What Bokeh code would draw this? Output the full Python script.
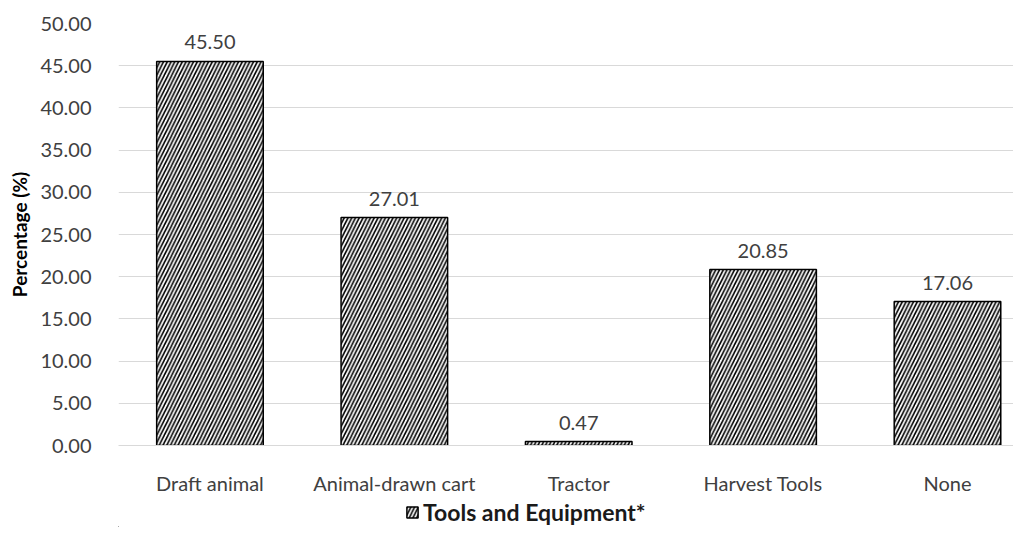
from bokeh.plotting import figure
from bokeh.layouts import column
from bokeh.models import Range1d, FixedTicker, NumeralTickFormatter, Legend, LegendItem, ColumnDataSource
from bokeh.core.properties import value
from bokeh.embed import file_html
from bokeh.resources import INLINE

categories = ["Draft animal", "Animal-drawn cart", "Tractor", "Harvest Tools", "None"]
percentages = [45.50, 27.01, 0.47, 20.85, 17.06]
y_ticks = [0, 5, 10, 15, 20, 25, 30, 35, 40, 45, 50]
series_name = "Tools and Equipment*"

FONT = "Lato"
FS = "20px"
TXT = "#404040"
xs = list(range(len(categories)))
src = ColumnDataSource(dict(x=xs, y=percentages, lbl=[f"{v:.2f}" for v in percentages]))

bar_style = dict(width=0.578, fill_color="white", line_color="black", line_width=1.5,
                 hatch_pattern="/", hatch_color="black", hatch_scale=7.5, hatch_weight=1.6)

p = figure(width=1013, height=497, output_backend="svg", toolbar_location=None,
           x_range=Range1d(-0.496, 4.358), y_range=Range1d(0, 50))
p.min_border_left = 118
p.min_border_right = 0
p.min_border_top = 23
p.min_border_bottom = 48
p.outline_line_color = None

r = p.vbar(x="x", top="y", source=src, **bar_style)

p.text(x="x", y="y", text="lbl", source=src, text_align="center", text_baseline="alphabetic",
       y_offset=-19, text_font=value(FONT), text_font_size=FS, text_color=TXT)

p.xaxis.ticker = FixedTicker(ticks=xs)
p.xaxis.major_label_overrides = {i: c for i, c in enumerate(categories)}
p.xaxis.major_tick_line_color = None
p.xaxis.minor_tick_line_color = None
p.xaxis.axis_line_color = "#d9d9d9"
p.xaxis.major_label_standoff = 19
p.xaxis.major_label_text_font = FONT
p.xaxis.major_label_text_font_size = FS
p.xaxis.major_label_text_color = TXT

p.yaxis.ticker = FixedTicker(ticks=y_ticks)
p.yaxis.formatter = NumeralTickFormatter(format="0.00")
p.yaxis.axis_line_color = None
p.yaxis.major_tick_line_color = None
p.yaxis.minor_tick_line_color = None
p.yaxis.major_label_standoff = 21
p.yaxis.major_label_text_font = FONT
p.yaxis.major_label_text_font_size = FS
p.yaxis.major_label_text_color = TXT
p.yaxis.axis_label = "Percentage (%)"
p.yaxis.axis_label_text_font = FONT
p.yaxis.axis_label_text_font_style = "bold"
p.yaxis.axis_label_text_font_size = "19px"
p.yaxis.axis_label_text_color = "black"
p.yaxis.axis_label_standoff = 6

p.xgrid.grid_line_color = None
p.ygrid.grid_line_color = "#d9d9d9"
p.ygrid.ticker = FixedTicker(ticks=y_ticks)

# legend strip below the chart (its bars lie outside its visible ranges)
lg = figure(width=1013, height=30, output_backend="svg", toolbar_location=None,
            x_axis_type=None, y_axis_type=None,
            x_range=Range1d(100, 101), y_range=Range1d(100, 101))
lg.min_border = 0
lg.outline_line_color = None
lg.grid.visible = False
r2 = lg.vbar(x="x", top="y", source=src, **bar_style)
legend = Legend(items=[LegendItem(label=series_name, renderers=[r2])],
                orientation="horizontal", location=(287, 1),
                label_text_font=FONT, label_text_font_size="23px", label_text_font_style="bold",
                label_text_color="#1a1a1a", glyph_width=14, glyph_height=14,
                border_line_color=None, background_fill_alpha=0, padding=0, margin=0,
                label_standoff=4, spacing=0)
lg.add_layout(legend, "center")

layout = column(p, lg, spacing=0)
open("out.html", "w").write(file_html(layout, INLINE))
